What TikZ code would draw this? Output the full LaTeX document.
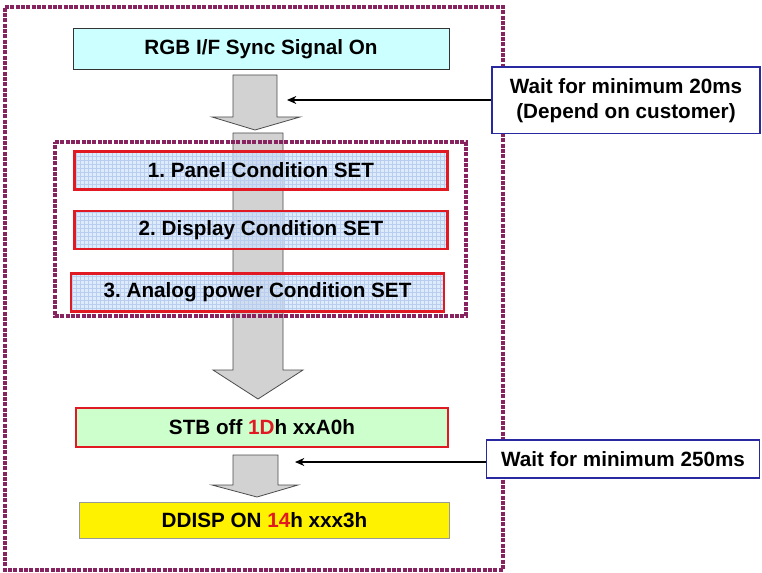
\documentclass[tikz,border=0pt]{standalone}
\usepackage{fontspec}
\setmainfont{Liberation Sans}
\usetikzlibrary{arrows.meta}
\frenchspacing

\definecolor{frameplum}{RGB}{135,35,95}
\definecolor{syncblue}{RGB}{204,255,255}
\definecolor{condblue}{RGB}{208,226,250}
\definecolor{condgridblue}{RGB}{185,205,240}
\definecolor{condred}{RGB}{225,25,35}
\definecolor{stbgreen}{RGB}{204,255,204}
\definecolor{arrowgray}{RGB}{210,210,210}
\definecolor{noteblue}{RGB}{40,40,160}

\tikzset{every picture/.style={line width=0.75pt}}
\tikzset{
  plumframe/.style={draw=frameplum, line width=3pt, dash pattern=on 3pt off 1pt},
  condbox/.style={fill=condblue, fill opacity=0.7, text opacity=1,
    minimum width=279pt, minimum height=28pt, inner sep=0pt},
  condgrid/.style={draw=condgridblue, line width=0.25pt},
  condedge/.style={draw=condred, line width=1.8pt},
  notebox/.style={draw=noteblue, line width=1pt, fill=white, align=center, inner sep=0pt},
  blockarrow/.style={draw=black!70, line width=0.6pt, fill=arrowgray},
  callout/.style={-{Stealth[length=7pt,width=6pt]}, line width=0.8pt},
  every node/.style={font=\bfseries\fontsize{15.5}{19}\selectfont}
}

\begin{document}
\begin{tikzpicture}[x=0.75pt,y=0.75pt,yscale=-1,xscale=1]
\useasboundingbox (0,0) rectangle (762,573);

%Outer frame
\draw [plumframe] (5,7) -- (503,7) -- (503,570) -- (5,570) -- cycle ;

%Block arrow: sync -> conditions
\draw [blockarrow] (233,75) -- (277,75) -- (277,117) -- (300,117) -- (255,130) -- (212,117) -- (233,117) -- cycle ;
%Block arrow: conditions -> STB (long shaft behind the condition boxes)
\draw [blockarrow] (233,133) -- (283,133) -- (283,370) -- (303,370) -- (258,399) -- (213,370) -- (233,370) -- cycle ;
%Block arrow: STB -> DDISP
\draw [blockarrow] (233,455) -- (278,455) -- (278,485) -- (298,485) -- (257,497) -- (212,485) -- (233,485) -- cycle ;

%Inner frame
\draw [plumframe, line width=2.6pt] (55,142) -- (466,142) -- (466,316) -- (55,316) -- cycle ;

% Sync box
\node [draw=black!80, fill=syncblue, minimum width=282pt, minimum height=30.75pt, inner sep=0pt] (sync) at (261,49.5) {RGB I/F Sync Signal On};

% Condition boxes
\node [condbox] (panel) at (261,170.5) {};
\node [condbox] (display) at (261,230) {};
\node [condbox] (analog) at (257.5,292.5) {};
\foreach \cond/\txt in {panel/1. Panel Condition SET,display/2. Display Condition SET,analog/3. Analog power Condition SET}{
  \draw [condgrid] (\cond.south west) grid [step=4] (\cond.north east);
  \draw [condedge] (\cond.south west) rectangle (\cond.north east);
  \node at (\cond) {\txt};
}

% STB box
\node [draw=condred, line width=1.8pt, fill=stbgreen, minimum width=279pt, minimum height=29pt, inner sep=0pt] (stb) at (262,427.5) {STB off \textcolor{condred}{1D}h xxA0h};

% DDISP box
\node [draw=black!40, fill=yellow, minimum width=278pt, minimum height=27pt, inner sep=0pt] (ddisp) at (264.5,520) {DDISP ON \textcolor{condred}{14}h xxx3h};

% Notes
\node [notebox, minimum width=201pt, minimum height=50pt] (waitA) at (626,100.5) {Wait for minimum 20ms\\(Depend on customer)};
\node [notebox, minimum width=205pt, minimum height=28.5pt] (waitB) at (623,459) {Wait for minimum 250ms};

\coordinate (tipA) at (287,100);
\coordinate (tipB) at (295,462);

\draw [callout] (waitA.west |- tipA) -- (tipA) ;
\draw [callout] (waitB.west |- tipB) -- (tipB) ;

\end{tikzpicture}
\end{document}
